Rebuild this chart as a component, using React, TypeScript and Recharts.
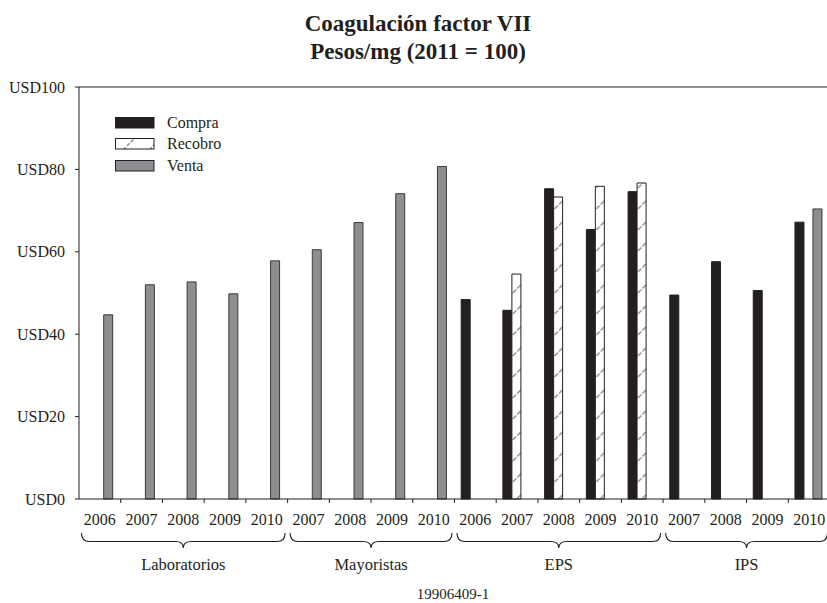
import React from 'react';
import { BarChart, Bar, XAxis, YAxis, ReferenceLine, Legend } from 'recharts';

// groups and the years shown under each
const groupNames = ['Laboratorios', 'Mayoristas', 'EPS', 'IPS'];
const groupYears = [
  ['2006', '2007', '2008', '2009', '2010'],
  ['2007', '2008', '2009', '2010'],
  ['2006', '2007', '2008', '2009', '2010'],
  ['2007', '2008', '2009', '2010'],
];

// values per category, in the same order as above (null = no bar)
const compra = [null, null, null, null, null, null, null, null, null, 48.4, 45.8, 75.3, 65.4, 74.6, 49.5, 57.6, 50.6, 67.2];
const recobro = [null, null, null, null, null, null, null, null, null, null, 54.6, 73.3, 75.9, 76.7, null, null, null, null];
const venta = [44.7, 52.0, 52.7, 49.8, 57.8, 60.5, 67.1, 74.1, 80.7, null, null, null, null, null, null, null, null, 70.4];

const yTicks = [0, 20, 40, 60, 80, 100];

const INK = '#231f20';
const GREY = '#8d8e92';
const FONT = '"Liberation Serif", "Times New Roman", serif';

const PLOT_LEFT = 79;
const PLOT_RIGHT = 830;
const BAND = (PLOT_RIGHT - PLOT_LEFT) / 18;

const rows: any[] = [];
groupYears.forEach((years, gi) => {
  years.forEach((year, yi) => {
    const i = rows.length;
    rows.push({
      id: `${groupNames[gi]}-${year}`,
      year,
      group: gi,
      first: yi === 0,
      size: years.length,
      compra: compra[i],
      recobro: recobro[i],
      venta: venta[i],
    });
  });
});

function bracePath(x1: number, x2: number, top: number) {
  const mid = (x1 + x2) / 2;
  const h = top + 8.5;
  const tip = top + 15;
  const r = 8;
  return `M${x1},${top} Q${x1},${h} ${x1 + r},${h} L${mid - r},${h} Q${mid},${h} ${mid},${tip} ` +
    `Q${mid},${h} ${mid + r},${h} L${x2 - r},${h} Q${x2},${h} ${x2},${top}`;
}

function YearTick(props: any) {
  const { x, y, payload, index } = props;
  const row = rows[index] || rows.find((r) => r.id === payload?.value);
  if (!row) return null;
  const half = payload && payload.offset > 0 ? payload.offset : BAND / 2;
  const left = x - half;
  return (
    <g>
      {index > 0 && <line x1={left} y1={y} x2={left} y2={y + 4} stroke={INK} strokeWidth={1} />}
      <text x={x} y={y + 26} textAnchor="middle" fontFamily={FONT} fontSize={16} fill={INK}>
        {row.year}
      </text>
      {row.first && (
        <g>
          <path d={bracePath(left + 2.5, left + row.size * half * 2 - 2.5, y + 34)} fill="none" stroke={INK} strokeWidth={1.1} />
          <text x={left + row.size * half} y={y + 71} textAnchor="middle" fontFamily={FONT} fontSize={16.5} fill={INK}>
            {groupNames[row.group]}
          </text>
        </g>
      )}
    </g>
  );
}

const legendItems = [
  { name: 'Compra', fill: INK },
  { name: 'Recobro', fill: 'url(#hatchKey)' },
  { name: 'Venta', fill: GREY },
];

function LegendBox() {
  return (
    <div style={{ fontFamily: FONT, fontSize: 16, color: INK }}>
      {legendItems.map((it) => (
        <div key={it.name} style={{ display: 'flex', alignItems: 'center', height: 21.5 }}>
          <svg width={40} height={12} style={{ marginRight: 12 }}>
            <rect x={0.5} y={0.5} width={38.5} height={10.5} fill={it.fill} stroke={INK} strokeWidth={1} />
          </svg>
          <span>{it.name}</span>
        </div>
      ))}
    </div>
  );
}

export default function App() {
  return (
    <div style={{ position: 'absolute', left: 0, top: 0, width: 827, height: 603, overflow: 'hidden', background: '#fff' }}>
      <svg width={0} height={0} style={{ position: 'absolute' }}>
        <defs>
          <pattern id="hatch" patternUnits="userSpaceOnUse" x={PLOT_LEFT} y={0} width={BAND} height={21}>
            <rect width={BAND} height={21} fill="#fff" />
            <line x1={16.5} y1={20} x2={25.5} y2={11} stroke="#8f8f8f" strokeWidth={1.4} strokeDasharray="5 1.5" />
          </pattern>
          <pattern id="hatchKey" patternUnits="userSpaceOnUse" x={0} y={0} width={26} height={12}>
            <rect width={26} height={12} fill="#fff" />
            <line x1={8} y1={12} x2={20} y2={0} stroke="#8f8f8f" strokeWidth={1.4} strokeDasharray="4 1.5" />
          </pattern>
        </defs>
      </svg>
      <div
        style={{
          position: 'absolute',
          left: 418,
          top: 10,
          transform: 'translateX(-50%)',
          whiteSpace: 'nowrap',
          textAlign: 'center',
          fontFamily: FONT,
          fontWeight: 'bold',
          fontSize: 23,
          lineHeight: '28px',
          color: INK,
        }}
      >
        <div>Coagulación factor VII</div>
        <div>Pesos/mg (2011 = 100)</div>
      </div>
      <BarChart
        width={830}
        height={603}
        data={rows}
        margin={{ top: 87, right: 0, bottom: 0, left: 0 }}
        barCategoryGap="16%"
        barGap={0}
      >
        <XAxis
          dataKey="id"
          height={104}
          stroke={INK}
          tickLine={false}
          tickSize={0}
          tickMargin={0}
          interval={0}
          tick={<YearTick />}
        />
        <YAxis
          width={79}
          domain={[0, 100]}
          ticks={yTicks}
          stroke={INK}
          tickSize={4}
          tickMargin={10}
          tick={{ fill: INK, fontFamily: FONT, fontSize: 16 }}
          tickFormatter={(v) => `USD${v}`}
        />
        <ReferenceLine y={100} stroke={INK} strokeWidth={1} />
        <Legend
          layout="horizontal"
          verticalAlign="middle"
          align="center"
          content={<LegendBox />}
          wrapperStyle={{ left: 115, top: 112, width: 140, height: 70 }}
        />
        <Bar dataKey="compra" name="Compra" fill={INK} stroke={INK} strokeWidth={1} isAnimationActive={false} />
        <Bar dataKey="recobro" name="Recobro" fill="url(#hatch)" stroke={INK} strokeWidth={1} isAnimationActive={false} />
        <Bar dataKey="venta" name="Venta" fill={GREY} stroke="#3a3a3a" strokeWidth={1} isAnimationActive={false} />
      </BarChart>
      <div
        style={{
          position: 'absolute',
          left: 453,
          top: 586,
          transform: 'translateX(-50%)',
          fontFamily: FONT,
          fontSize: 15,
          lineHeight: '17px',
          color: INK,
          whiteSpace: 'nowrap',
        }}
      >
        19906409-1
      </div>
    </div>
  );
}
